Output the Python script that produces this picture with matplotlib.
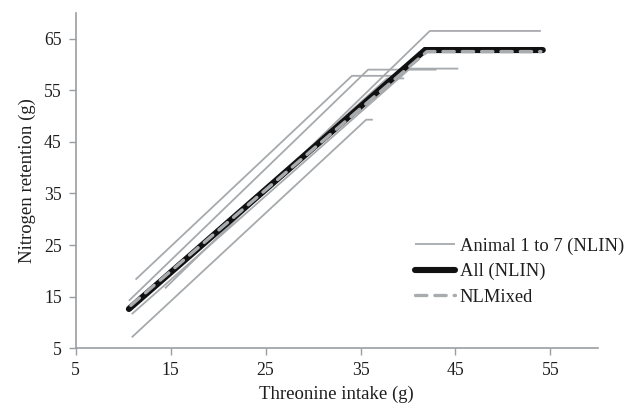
import matplotlib
matplotlib.use("Agg")
import matplotlib.pyplot as plt

# Animal curves (linear-plateau): start, breakpoint, end
animal_x = [
    [11.3, 34.1, 39.4],
    [10.6, 35.8, 43.0],
    [10.9, 40.2, 45.3],
    [14.4, 42.3, 54.0],
    [10.9, 35.6, 36.3],
    [10.7, 37.8, 39.6],
    [10.6, 41.8, 44.0],
]
animal_y = [
    [18.3, 57.8, 57.8],
    [14.2, 59.0, 59.0],
    [11.6, 59.2, 59.2],
    [16.6, 66.5, 66.5],
    [7.1, 49.3, 49.3],
    [12.4, 57.3, 57.3],
    [13.2, 62.6, 62.6],
]
all_x = [10.6, 41.8, 54.2]
all_y = [12.6, 62.8, 62.8]
mixed_x = [10.8, 42.0, 54.0]
mixed_y = [13.3, 62.5, 62.5]

xticks = [5, 15, 25, 35, 45, 55]
yticks = [5, 15, 25, 35, 45, 55, 65]

plt.rcParams['font.family'] = ['Liberation Serif', 'DejaVu Serif']
gray = '#A7AAAD'
axgray = '#9A9EA2'
txt = '#1E1E1E'

fig = plt.figure(figsize=(6.26, 4.03), dpi=100)
ax = fig.add_axes([0.121, 0.136, 0.834, 0.832])

for i, (xs, ys) in enumerate(zip(animal_x, animal_y)):
    ax.plot(xs, ys, color=gray, lw=1.3, solid_capstyle='butt',
            label='Animal 1 to 7 (NLIN)' if i == 0 else None)
ax.plot(all_x, all_y, color='#111111', lw=4.4, solid_capstyle='round',
        solid_joinstyle='miter', label='All (NLIN)')
ax.plot(mixed_x, mixed_y, color='#A9ACAF', lw=2.4, dashes=(3.4, 2.4),
        dash_capstyle='round', label='NLMixed')

ax.set_xlim(5, 60)
ax.set_ylim(5, 70)
ax.set_xticks(xticks)
ax.set_yticks(yticks)
ax.tick_params(axis='both', direction='out', length=5, width=1,
               color=axgray, labelsize=12.7, labelcolor=txt, pad=5)
for s in ['top', 'right']:
    ax.spines[s].set_visible(False)
for s in ['left', 'bottom']:
    ax.spines[s].set_color(axgray)
    ax.spines[s].set_linewidth(1.2)

ax.set_xlabel('Threonine intake (g)', fontsize=13.5, color=txt, labelpad=5)
ax.set_ylabel('Nitrogen retention (g)', fontsize=13.5, color=txt, labelpad=6)

leg = ax.legend(loc='upper left', bbox_to_anchor=(0.649, 0.33), frameon=False,
                fontsize=13.3, handlelength=2.2, handletextpad=0.25,
                labelspacing=0.45, borderaxespad=0, borderpad=0)
for t in leg.get_texts():
    t.set_color(txt)

fig.savefig('out.png', dpi=100)
